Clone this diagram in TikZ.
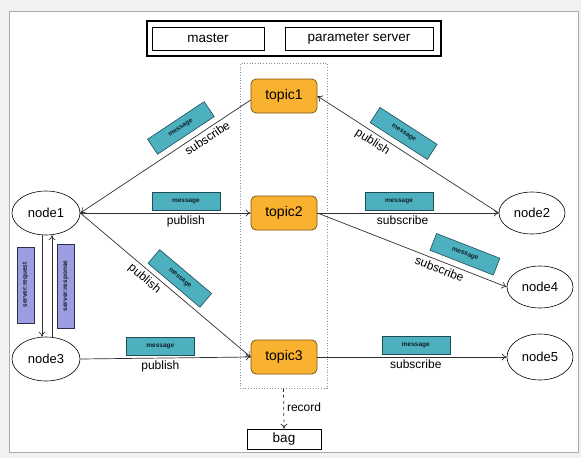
\documentclass[tikz,border=0pt]{standalone}
\usepackage{fontspec}
\setmainfont{Liberation Sans}
\usetikzlibrary{arrows.meta,shapes.geometric}
\definecolor{bgc}{HTML}{F1F1F1}
\definecolor{framec}{HTML}{A3ADAD}
\definecolor{linec}{HTML}{303030}
\definecolor{topicf}{HTML}{F9B130}
\definecolor{topicb}{HTML}{7A5410}
\definecolor{msgf}{HTML}{4DB0BE}
\definecolor{msgb}{HTML}{1E4E58}
\definecolor{msgt}{HTML}{10202A}
\definecolor{srvf}{HTML}{9C9CE0}
\definecolor{srvb}{HTML}{2E2E55}
\definecolor{dotc}{HTML}{7A98A8}
\begin{document}
\begin{tikzpicture}[x=1pt,y=-1pt,
  >={To[length=5pt,width=7pt]},
  line/.style={draw=linec, line width=0.7pt},
  topic/.style={draw=topicb, fill=topicf, rounded corners=5pt, minimum width=66pt, minimum height=34pt, inner sep=0pt, font=\fontsize{14}{16}\selectfont, line width=0.7pt},
  ell/.style={draw=black, ellipse, minimum width=68pt, minimum height=44pt, inner sep=0pt, font=\fontsize{13}{15}\selectfont, line width=0.6pt},
  msg/.style={draw=msgb, fill=msgf, minimum width=68pt, minimum height=18pt, inner sep=0pt, font=\fontsize{6.5}{7}\selectfont\bfseries, text=msgt, line width=0.6pt},
  lbl/.style={font=\fontsize{12}{13}\selectfont, inner sep=1pt},
  srv/.style={draw=srvb, fill=srvf, minimum height=17pt, inner sep=0pt, font=\fontsize{6.5}{7}\selectfont\bfseries, text=msgt, rotate=90, line width=0.6pt},
  boxn/.style={draw=black, inner sep=0pt, font=\fontsize{13.5}{15}\selectfont, line width=0.6pt},
]
\useasboundingbox (0,0) rectangle (581,458);
\fill[bgc] (0,0) rectangle (581,458);
\draw[framec, fill=white, line width=0.8pt] (9.5,11.5) rectangle (578.5,452);

% master / parameter server
\node[draw=black, line width=1.2pt, minimum width=294pt, minimum height=35pt, inner sep=0pt] (mframe) at (294,38.5) {};
\node[boxn, minimum width=112pt, minimum height=23pt] (master) at (208,38.5) {master};
\node[boxn, minimum width=148pt, minimum height=23pt] (ps) at (359,38.5) {parameter server};

% dotted region
\node[draw=dotc, dotted, line width=0.7pt, minimum width=87pt, minimum height=325pt, inner sep=0pt] (region) at (283.5,226) {};

% topics
\node[topic] (topic1) at (284,96) {topic1};
\node[topic] (topic2) at (284,213) {topic2};
\node[topic] (topic3) at (284,357) {topic3};

% ros nodes
\node[ell] (node1) at (46,213) {node1};
\node[ell] (node3) at (46,359) {node3};
\node[ell, minimum width=66pt, minimum height=42pt] (node2) at (532,213) {node2};
\node[ell, minimum width=66pt, minimum height=42pt] (node4) at (540,287) {node4};
\node[ell, minimum width=66pt, minimum height=46pt] (node5) at (540,357) {node5};

% bag
\node[boxn, minimum width=74pt, minimum height=20pt] (bag) at (284,439) {bag};
\draw[line, dashed, ->] (region.south) -- node[lbl, right=2pt, pos=0.45]{record} (bag.north);

% edges
\draw[line,<-] (node1.east) -- node[msg, sloped, pos=0.64, above=6pt]{message} node[lbl, sloped, pos=0.72, below=2pt]{subscribe} ([yshift=-4pt]topic1.west);
\draw[line,<-] (topic1.east) -- node[msg, sloped, pos=0.43, above=6pt]{message} node[lbl, sloped, pos=0.33, below=2pt]{publish} (node2.west);
\draw[line,->] (node1.east) -- node[msg, pos=0.62, above=2pt]{message} node[lbl, pos=0.62, below=1pt]{publish} (topic2.west);
\draw[line,->] (topic2.east) -- node[msg, pos=0.45, above=2pt]{message} node[lbl, pos=0.47, below=1pt]{subscribe} (node2.west);
\draw[line,->] (topic2.east) -- node[msg, sloped, pos=0.75, above=6pt]{message} node[lbl, sloped, pos=0.66, below=2pt]{subscribe} (node4.west);
\draw[line,->] (node1.east) -- node[msg, sloped, pos=0.53, above=5pt]{message} node[lbl, sloped, pos=0.41, below=2pt]{publish} (topic3.west);
\draw[line,->] (node3.east) -- node[msg, pos=0.47, above=2pt]{message} node[lbl, pos=0.47, below=1pt]{publish} (topic3.west);
\draw[line,->] (topic3.east) -- node[msg, pos=0.52, above=2pt]{message} node[lbl, pos=0.52, below=1pt]{subscribe} (node5.west);

% server request/response
\draw[line,->] ([xshift=-4pt]node1.south) -- ([xshift=-4pt]node3.north);
\draw[line,->] ([xshift=6pt]node3.north) -- ([xshift=6pt]node1.south);
\node[srv, minimum width=76pt] (req) at (25.5,285) {server:request};
\node[srv, minimum width=84pt] (resp) at (66,286) {server:response};
\end{tikzpicture}
\end{document}
